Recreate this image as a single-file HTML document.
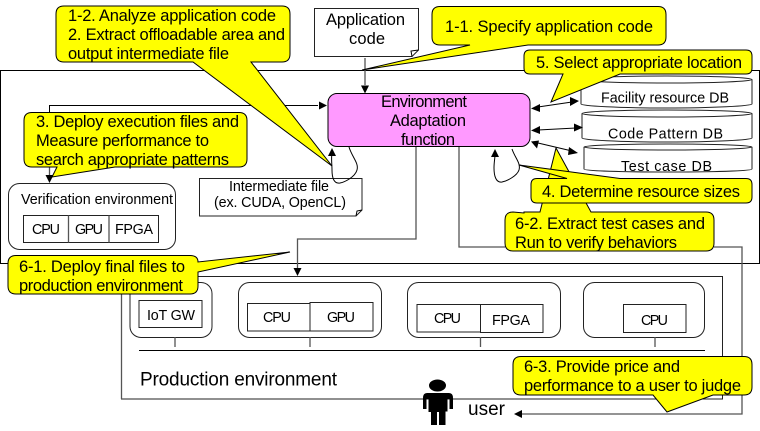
<!DOCTYPE html>
<html><head><meta charset="utf-8"><style>
html,body{margin:0;padding:0;background:#fff;width:760px;height:431px;overflow:hidden}
svg{display:block}
text{font-family:"Liberation Sans",sans-serif;fill:#000}
.c{fill:#ffff00;stroke:#000;stroke-width:1}
.n{fill:none;stroke:#000;stroke-width:1}
.g{fill:none;stroke:#555;stroke-width:1.3}
.w{fill:#fff;stroke:#222;stroke-width:1}
.h{fill:#000;stroke:none}
.t16{font-size:16.5px}.t14{font-size:14.3px}
</style></head><body>
<svg width="760" height="431" viewBox="0 0 760 431" xmlns="http://www.w3.org/2000/svg">
<rect x="0.5" y="70.5" width="759" height="193" class="n"/>
<rect x="121.500" y="276.500" width="601" height="122.500" fill="#fff" stroke="#222" stroke-width="1"/>
<path d="M121.500 276.500V399" class="g"/>

<!-- connectors -->
<path d="M49.5 167V105.5H318" class="n"/><path d="M327 105.5l-8-4v8z" class="h"/>
<path d="M49.5 167V176" class="g"/><path d="M49.5 183l-4-8h8z" class="h"/>
<path d="M365 58V85" class="g"/><path d="M365 93.5l-4-8h8z" class="h"/>
<path d="M416 146V239H297.5V268" class="g"/><path d="M297.5 276l-4-8h8z" class="h"/>
<path d="M459 146V247H505M714 247H742V414H521" class="g"/><path d="M514 414l8-4v8z" class="h"/>

<!-- verification -->
<rect x="8.5" y="183.5" width="167" height="66" rx="11" class="w"/>
<rect x="23.5" y="215.5" width="135" height="27" class="w"/>
<path d="M68.5 215.5V242.5M109 215.5V242.5" class="g"/>

<!-- docs -->
<path d="M199.5 178.5H362V210L356 216H199.5Z" class="w"/>
<path d="M356 216L357 211L362 210" class="n"/>
<path d="M314.5 8.5H418.5V50L412 56.5H314.5Z" class="w"/>
<path d="M412 56.5L411 51L418.5 50" class="n"/>

<!-- function -->
<rect x="328" y="93.5" width="202" height="53" rx="9" fill="#ff99ff" stroke="#000" stroke-width="1"/>
<path d="M349 147C352 157 359 163 357 170C355 177 345 182 340 183C334 184 332 178 332 170C332 164 331 158 332 153" class="n"/>
<path d="M332 148l-4 8h8z" class="h"/>
<path d="M512 149C515 158 521 163 519 170C517 176 507 181 502 182C496 183 494 176 494 168C494 162 495 158 495 155" class="n"/>
<path d="M495 149l-4 8h8z" class="h"/>

<!-- DBs -->
<g fill="#fff" stroke="#222" stroke-width="1">
<path d="M581 79.500V104C581 106 620 108 666 108S752 106 752 104V79.500"/>
<ellipse cx="666.500" cy="79.500" rx="85.500" ry="3.500"/>
<path d="M582 113.500V138C582 140 620 142 667 142S752 140 752 138V113.500"/>
<ellipse cx="667" cy="113.500" rx="85" ry="3.500"/>
<path d="M584 147V169C584 171 625 172 668 172S752 171 752 169V147"/>
<ellipse cx="668" cy="147" rx="84" ry="3"/>
</g>

<!-- double arrows -->
<path d="M538 107L572 102" class="n"/><path d="M531 108.500l9-4.500v8zM579 101l-9-4v9z" class="h"/>
<path d="M538 130L576 128" class="n"/><path d="M531 130.500l9-4.500v8zM583 127.500l-9-4v8z" class="h"/>
<path d="M538 143L572 151" class="n"/><path d="M531 141.500l8 -1 -2 8zM578 153l-9-6-1 8z" class="h"/>

<!-- production -->
<rect x="130" y="282.500" width="82" height="55" rx="11" class="w"/>
<rect x="238.500" y="282.500" width="143" height="55" rx="11" class="w"/>
<rect x="407.500" y="282.500" width="153" height="55" rx="11" class="w"/>
<rect x="583.500" y="282.500" width="121" height="55" rx="11" class="w"/>
<rect x="139" y="300.500" width="63" height="27" class="w"/>
<rect x="247.500" y="303.500" width="62.500" height="27.500" class="w"/>
<rect x="310" y="302.500" width="63" height="28.500" class="w"/>
<rect x="417" y="304.500" width="63.500" height="27.500" class="w"/>
<rect x="480.500" y="304.500" width="62.500" height="28" class="w"/>
<rect x="623.500" y="304.500" width="62.500" height="28" class="w"/>
<path d="M175 337V347M310 337V347M480.500 337V347M655 337V347" class="g"/>
<path d="M139 350.500H705" class="n"/>

<!-- person -->
<g>
<ellipse cx="437.500" cy="385.500" rx="8.500" ry="6" fill="#000"/>
<path d="M427 393H449Q453 393 453 398V409H449.500V399H447.500V411.500H445.500V425H439V412H437V425H431V412H428.500V399H426.500V409H423V398Q423 393 427 393Z" fill="#000"/>
</g>

<!-- callouts -->
<path class="c" d="M524 213Q524 212.500 524 212H540L556 148L591 212H706Q714 212 714 220V243Q714 251 706 251H513Q505 251 505 243V220Q505 212 513 212Z"/>
<path class="c" d="M64 6H282Q290 6 290 14V54Q290 62 282 62H251L332 166L193 62H64Q56 62 56 54V14Q56 6 64 6Z"/>
<path class="c" d="M32 112.500H239Q247 112.500 247 120.500V159Q247 167 239 167H115L52 177L57 167H32Q24 167 24 159V120.500Q24 112.500 32 112.500Z"/>
<path class="c" d="M440 6.500H658Q666 6.500 666 14.500V37Q666 45 658 45H528L362 70L470 45H440Q432 45 432 37V14.500Q432 6.500 440 6.500Z"/>
<path class="c" d="M530 50H746Q752 50 752 56V68Q752 74 746 74H620L551 102L563 74H530Q524 74 524 68V56Q524 50 530 50Z"/>
<path class="c" d="M537 178.500H567L519 165L620 178.500H746Q752 178.500 752 184.500V197Q752 203 746 203H537Q531 203 531 197V184.500Q531 178.500 537 178.500Z"/>
<path class="c" d="M16 255.500H190Q198 255.500 198 262L290 252L198 272V286Q198 294 190 294H16Q8 294 8 286V263.500Q8 255.500 16 255.500Z"/>
<path class="c" d="M521 356.500H744Q752 356.500 752 364.500V387Q752 395 744 395H713L667 412L653 395H521Q513 395 513 387V364.500Q513 356.500 521 356.500Z"/>

<!-- text -->
<g class="t16">
<text x="68" y="21" textLength="208" lengthAdjust="spacing">1-2. Analyze application code</text>
<text x="68" y="40" textLength="217" lengthAdjust="spacing">2. Extract offloadable area and</text>
<text x="68" y="59" textLength="161" lengthAdjust="spacing">output intermediate file</text>
<text x="36" y="127" textLength="203" lengthAdjust="spacing">3. Deploy execution files and</text>
<text x="36" y="146" textLength="173" lengthAdjust="spacing">Measure performance to</text>
<text x="36" y="165" textLength="193" lengthAdjust="spacing">search appropriate patterns</text>
<text x="445" y="32" textLength="208" lengthAdjust="spacing">1-1.  Specify application code</text>
<text x="536" y="68" textLength="206" lengthAdjust="spacing">5. Select appropriate location</text>
<text x="542" y="197" textLength="198" lengthAdjust="spacing">4. Determine resource sizes</text>
<text x="515" y="229" textLength="190" lengthAdjust="spacing">6-2. Extract test cases and</text>
<text x="515" y="248" textLength="162" lengthAdjust="spacing">Run to verify behaviors</text>
<text x="19" y="272" textLength="166" lengthAdjust="spacing">6-1. Deploy final files to</text>
<text x="19" y="291" textLength="164" lengthAdjust="spacing">production environment</text>
<text x="524" y="372" textLength="156" lengthAdjust="spacing">6-3. Provide price and</text>
<text x="524" y="391" textLength="217" lengthAdjust="spacing">performance to a user to judge</text>
<text x="326" y="25" textLength="79" lengthAdjust="spacing">Application</text>
<text x="349" y="44" textLength="36" lengthAdjust="spacing">code</text>
<text x="381" y="107" textLength="86" lengthAdjust="spacing">Environment</text>
<text x="390" y="126" textLength="76" lengthAdjust="spacing">Adaptation</text>
<text x="401" y="145" textLength="54" lengthAdjust="spacing">function</text>
</g>
<text x="468" y="415" font-size="19" textLength="37" lengthAdjust="spacing">user</text>
<text x="140" y="385.500" font-size="19" textLength="197" lengthAdjust="spacing">Production environment</text>
<g class="t14">
<text x="229" y="191" textLength="100" lengthAdjust="spacing">Intermediate file</text>
<text x="214" y="207" textLength="132" lengthAdjust="spacing">(ex. CUDA, OpenCL)</text>
<text x="21" y="204" textLength="152" lengthAdjust="spacing">Verification environment</text>
<text x="32" y="234" textLength="28" lengthAdjust="spacing">CPU</text>
<text x="75" y="234" textLength="28" lengthAdjust="spacing">GPU</text>
<text x="115" y="234" textLength="38" lengthAdjust="spacing">FPGA</text>
<text x="147" y="320" textLength="48" lengthAdjust="spacing">IoT GW</text>
<text x="263" y="322" textLength="28" lengthAdjust="spacing">CPU</text>
<text x="327" y="322" textLength="28" lengthAdjust="spacing">GPU</text>
<text x="434" y="323" textLength="27" lengthAdjust="spacing">CPU</text>
<text x="492" y="325" textLength="38" lengthAdjust="spacing">FPGA</text>
<text x="641" y="325" textLength="27" lengthAdjust="spacing">CPU</text>
<text x="601" y="102.500" textLength="128" lengthAdjust="spacing">Facility resource DB</text>
<text x="608" y="138.500" textLength="115" lengthAdjust="spacing">Code Pattern DB</text>
<text x="621" y="171" textLength="91" lengthAdjust="spacing">Test case DB</text>
</g>
</svg>
</body></html>
